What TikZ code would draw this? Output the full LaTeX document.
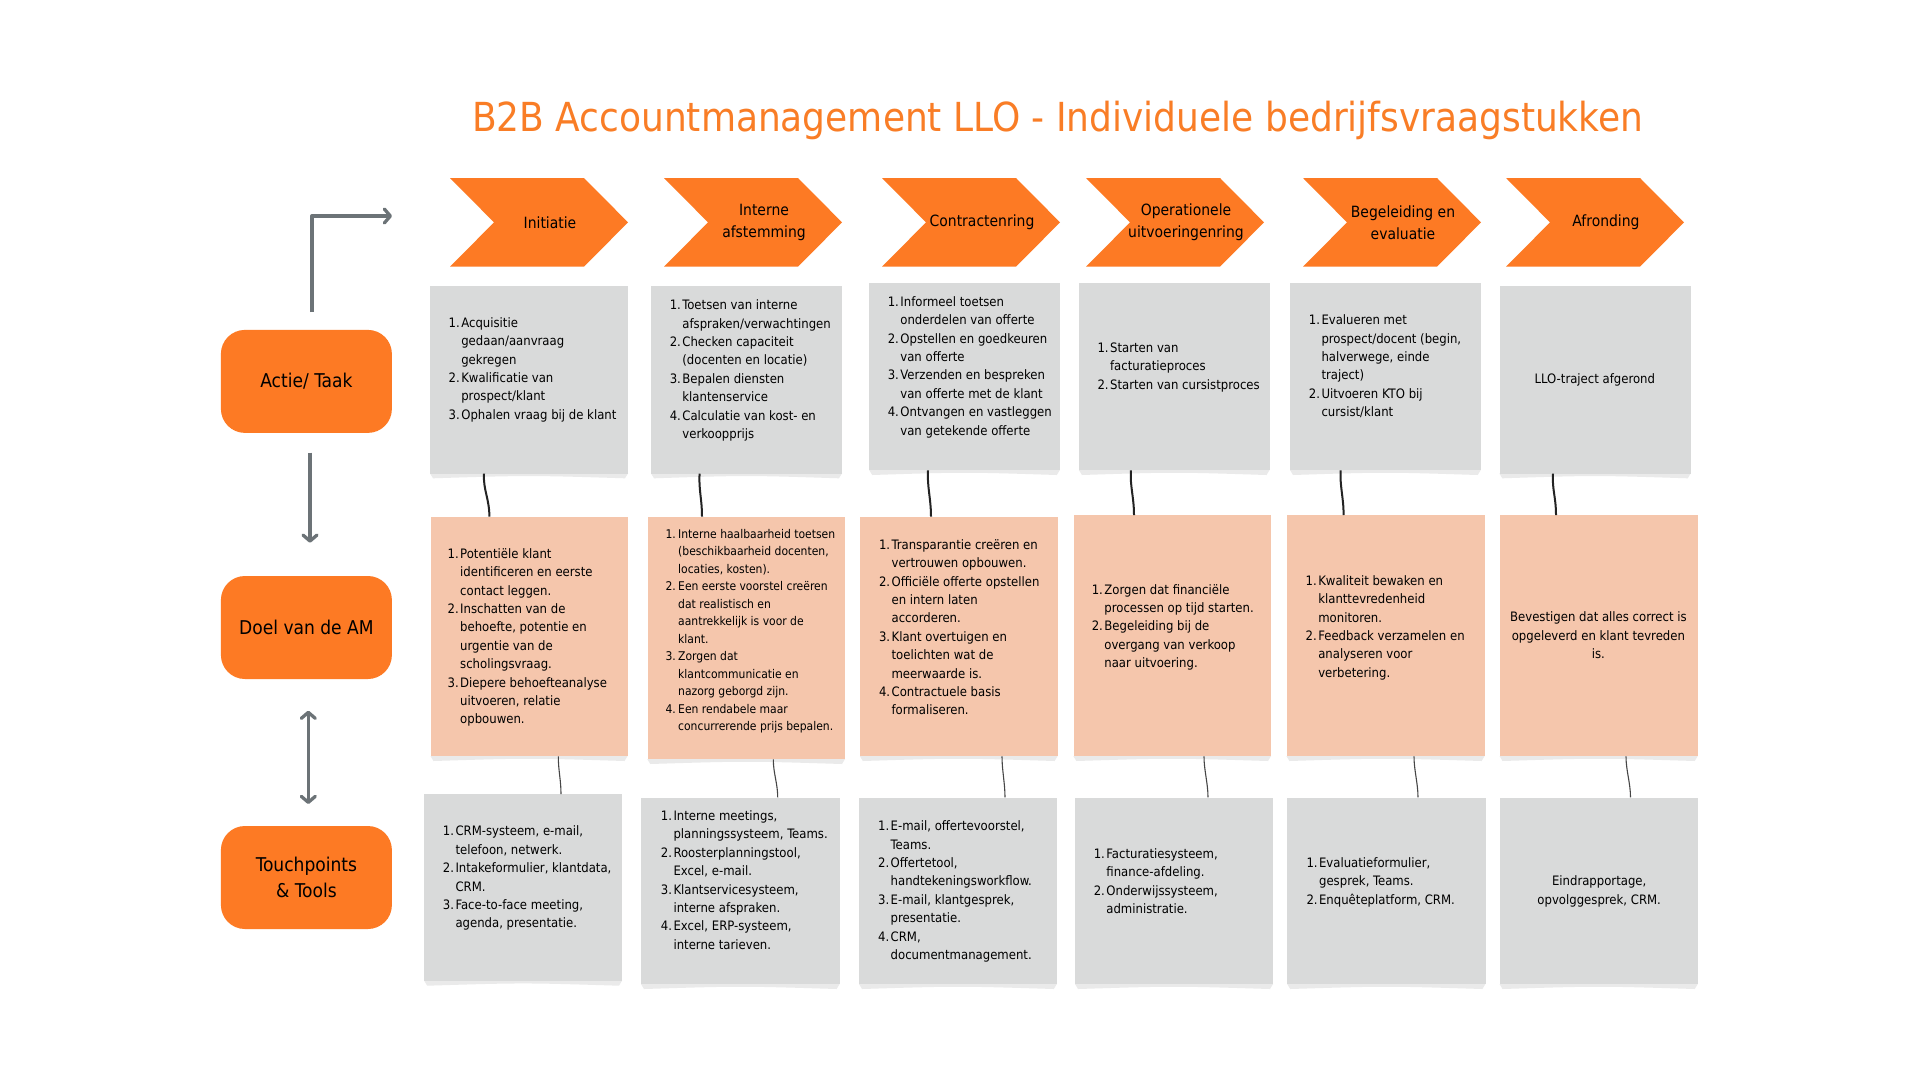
\documentclass[tikz,border=0pt]{standalone}
\usepackage{fontspec}
\IfFontExistsTF{DejaVu Sans Condensed}{\setmainfont{DejaVu Sans Condensed}}{\setmainfont{DejaVu Sans}[FakeStretch=0.9]}
\usetikzlibrary{arrows.meta}
\definecolor{org}{RGB}{253,122,36}
\definecolor{titleorg}{RGB}{249,125,38}
\definecolor{boxgray}{RGB}{217,218,218}
\definecolor{peach}{RGB}{245,198,172}
\definecolor{arrgray}{RGB}{108,115,119}
\definecolor{conn}{RGB}{35,35,35}
\definecolor{conn2}{RGB}{70,70,70}
\definecolor{shad}{RGB}{234,234,234}
\newcommand\itm[1]{\makebox[12.6pt][l]{#1}}
\newcommand\ct{\hspace*{12.6pt}}
\newcommand\chev[3]{%
  \fill[org] (#1,178) -- (#1+134,178) -- (#1+178,222.35) -- (#1+134,266.7) -- (#1,266.7) -- (#1+44,222.35) -- cycle;
  \node[chevtxt] (#2) at (#1+100,222.35) {#3};}
% style, name, x, y, w, h
\newcommand\bx[6]{%
  \fill[shad] (#3,#4+#6) -- (#3+#5,#4+#6) -- (#3+#5-3,#4+#6+5) .. controls (#3+#5/2,#4+#6+2) .. (#3+3,#4+#6+5) -- cycle;
  \node[#1, minimum width=#5pt, minimum height=#6pt] (#2) at (#3,#4) {};}
\tikzset{
  chevtxt/.style={align=center, inner sep=0, font=\fontsize{15.5}{22}\selectfont},
  gbox/.style={fill=boxgray, draw=none, inner sep=0, anchor=north west},
  pbox/.style={fill=peach, draw=none, inner sep=0, anchor=north west},
  lbl/.style={fill=org, draw=none, rounded corners=24pt, minimum width=171pt, minimum height=103pt, inner sep=0, align=center, font=\fontsize{19}{26}\selectfont},
  txt/.style={align=left, inner sep=0, anchor=west, font=\fontsize{13}{18.4}\selectfont},
  stxt/.style={align=left, inner sep=0, anchor=west, font=\fontsize{12}{17.5}\selectfont},
  ctxt/.style={align=center, inner sep=0, font=\fontsize{13}{18.4}\selectfont},
  arr/.style={draw=arrgray, line width=3.3pt, line join=round, -{Straight Barb[length=6pt,width=14pt,line cap=round,line join=round]}},
  darr/.style={draw=arrgray, line width=3.3pt, {Straight Barb[length=6pt,width=14pt,line cap=round,line join=round]}-{Straight Barb[length=6pt,width=14pt,line cap=round,line join=round]}},
  conA/.style={draw=conn, line width=2pt},
  conB/.style={draw=conn2, line width=1.1pt},
}
\begin{document}
\begin{tikzpicture}[x=1pt,y=-1pt]
\useasboundingbox[fill=white] (0,0) rectangle (1920,1080);

% title
\node[anchor=base, inner sep=0, text=titleorg, font=\fontsize{40}{48}\selectfont] (title) at (1057.7,131) {B2B Accountmanagement LLO - Individuele bedrijfsvraagstukken};

% chevrons
\chev{450}{h1}{Initiatie}
\chev{664}{h2}{Interne\\afstemming}
\chev{882}{h3}{Contractenring}
\chev{1086}{h4}{Operationele\\uitvoeringenring}
\chev{1303}{h5}{Begeleiding en\\evaluatie}
\chev{1506}{h6}{Afronding}

% left labels
\node[lbl] (lab1) at (306.4,381.4) {Actie/ Taak};
\node[lbl] (lab2) at (306.4,627.5) {Doel van de AM};
\node[lbl] (lab3) at (306.4,877.5) {Touchpoints\\ \& Tools};

% arrows
\coordinate (e1) at (312,312);
\coordinate (e2) at (312,216);
\coordinate (e3) at (392,216);
\draw[arr] (e1) -- (e2) -- (e3);
\coordinate (d1) at (310,452.7);
\coordinate (d2) at (310,542.7);
\draw[arr] (d1) -- (d2);
\coordinate (u1) at (308.3,710.7);
\coordinate (u2) at (308.3,804);
\draw[darr] (u1) -- (u2);

% row 1 boxes
\bx{gbox}{a1}{430}{286}{198}{187.3}
\bx{gbox}{a2}{651}{286}{191}{187.3}
\bx{gbox}{a3}{869.2}{282.7}{190.6}{187.3}
\bx{gbox}{a4}{1078.9}{282.7}{190.6}{187.3}
\bx{gbox}{a5}{1290}{282.7}{190.7}{187.3}
\bx{gbox}{a6}{1499.3}{286}{191.4}{187.3}
% row 2 boxes
\bx{pbox}{b1}{430.5}{516.7}{197}{239.3}
\bx{pbox}{b2}{647.3}{516.7}{197.7}{242.3}
\bx{pbox}{b3}{859.8}{516.7}{197.8}{239.3}
\bx{pbox}{b4}{1073.3}{515}{197.7}{241}
\bx{pbox}{b5}{1286.4}{515}{198.2}{241}
\bx{pbox}{b6}{1499.5}{515}{198.2}{241}
% row 3 boxes
\bx{gbox}{c1}{424.2}{794}{197.8}{186.7}
\bx{gbox}{c2}{641}{797.3}{198.6}{186.7}
\bx{gbox}{c3}{859}{797.3}{197.8}{186.7}
\bx{gbox}{c4}{1075}{797.3}{198}{186.7}
\bx{gbox}{c5}{1287.2}{797.3}{198.2}{186.7}
\bx{gbox}{c6}{1499.5}{797.3}{198.2}{186.7}

% connectors row1 -> row2
\draw[conA] ([xshift=54pt]a1.south west) .. controls +(-1,16) and +(0,-18) .. ([xshift=58.9pt]b1.north west);
\draw[conA] ([xshift=48.6pt]a2.south west) .. controls +(-1,16) and +(0,-18) .. ([xshift=54.7pt]b2.north west);
\draw[conA] ([xshift=58.8pt]a3.south west) .. controls +(-1,16) and +(0,-18) .. ([xshift=71.2pt]b3.north west);
\draw[conA] ([xshift=52pt]a4.south west) .. controls +(-1,16) and +(0,-18) .. ([xshift=60.7pt]b4.north west);
\draw[conA] ([xshift=50.7pt]a5.south west) .. controls +(-1,16) and +(0,-18) .. ([xshift=57.2pt]b5.north west);
\draw[conA] ([xshift=53.7pt]a6.south west) .. controls +(-1,16) and +(0,-18) .. ([xshift=56.5pt]b6.north west);
% connectors row2 -> row3
\draw[conB] ([xshift=127.8pt]b1.south west) .. controls +(0,14) and +(0,-14) .. ([xshift=136.8pt]c1.north west);
\draw[conB] ([xshift=126pt]b2.south west) .. controls +(0,14) and +(0,-14) .. ([xshift=136.7pt]c2.north west);
\draw[conB] ([xshift=142.2pt]b3.south west) .. controls +(0,14) and +(0,-14) .. ([xshift=146pt]c3.north west);
\draw[conB] ([xshift=130.7pt]b4.south west) .. controls +(0,14) and +(0,-14) .. ([xshift=133pt]c4.north west);
\draw[conB] ([xshift=127.6pt]b5.south west) .. controls +(0,14) and +(0,-14) .. ([xshift=130.8pt]c5.north west);
\draw[conB] ([xshift=126.5pt]b6.south west) .. controls +(0,14) and +(0,-14) .. ([xshift=131pt]c6.north west);

% row 1 texts
\node[txt] (ta1) at (448.5,369.8) {\itm{1.}Acquisitie\\ \ct gedaan/aanvraag\\ \ct gekregen\\ \itm{2.}Kwalificatie van\\ \ct prospect/klant\\ \itm{3.}Ophalen vraag bij de klant};
\node[txt] (ta2) at (669.6,370.5) {\itm{1.}Toetsen van interne\\ \ct afspraken/verwachtingen\\ \itm{2.}Checken capaciteit\\ \ct (docenten en locatie)\\ \itm{3.}Bepalen diensten\\ \ct klantenservice\\ \itm{4.}Calculatie van kost- en\\ \ct verkoopprijs};
\node[txt] (ta3) at (887.6,367.2) {\itm{1.}Informeel toetsen\\ \ct onderdelen van offerte\\ \itm{2.}Opstellen en goedkeuren\\ \ct van offerte\\ \itm{3.}Verzenden en bespreken\\ \ct van offerte met de klant\\ \itm{4.}Ontvangen en vastleggen\\ \ct van getekende offerte};
\node[txt] (ta4) at (1097.3,367.3) {\itm{1.}Starten van\\ \ct facturatieproces\\ \itm{2.}Starten van cursistproces};
\node[txt] (ta5) at (1308.7,366.3) {\itm{1.}Evalueren met\\ \ct prospect/docent (begin,\\ \ct halverwege, einde\\ \ct traject)\\ \itm{2.}Uitvoeren KTO bij\\ \ct cursist/klant};
\node[ctxt] (ta6) at (1594.8,379.5) {LLO-traject afgerond};

% row 2 texts
\node[txt] (tb1) at (447.4,637.5) {\itm{1.}Potentiële klant\\ \ct identificeren en eerste\\ \ct contact leggen.\\ \itm{2.}Inschatten van de\\ \ct behoefte, potentie en\\ \ct urgentie van de\\ \ct scholingsvraag.\\ \itm{3.}Diepere behoefteanalyse\\ \ct uitvoeren, relatie\\ \ct opbouwen.};
\node[stxt] (tb2) at (665.4,631.2) {\itm{1.}Interne haalbaarheid toetsen\\ \ct (beschikbaarheid docenten,\\ \ct locaties, kosten).\\ \itm{2.}Een eerste voorstel creëren\\ \ct dat realistisch en\\ \ct aantrekkelijk is voor de\\ \ct klant.\\ \itm{3.}Zorgen dat\\ \ct klantcommunicatie en\\ \ct nazorg geborgd zijn.\\ \itm{4.}Een rendabele maar\\ \ct concurrerende prijs bepalen.};
\node[txt] (tb3) at (878.8,627.2) {\itm{1.}Transparantie creëren en\\ \ct vertrouwen opbouwen.\\ \itm{2.}Officiële offerte opstellen\\ \ct en intern laten\\ \ct accorderen.\\ \itm{3.}Klant overtuigen en\\ \ct toelichten wat de\\ \ct meerwaarde is.\\ \itm{4.}Contractuele basis\\ \ct formaliseren.};
\node[txt] (tb4) at (1091.6,627.3) {\itm{1.}Zorgen dat financiële\\ \ct processen op tijd starten.\\ \itm{2.}Begeleiding bij de\\ \ct overgang van verkoop\\ \ct naar uitvoering.};
\node[txt] (tb5) at (1305.5,627.8) {\itm{1.}Kwaliteit bewaken en\\ \ct klanttevredenheid\\ \ct monitoren.\\ \itm{2.}Feedback verzamelen en\\ \ct analyseren voor\\ \ct verbetering.};
\node[ctxt] (tb6) at (1598.4,635.3) {Bevestigen dat alles correct is\\ opgeleverd en klant tevreden\\ is.};

% row 3 texts
\node[txt] (tc1) at (442.7,878.3) {\itm{1.}CRM-systeem, e-mail,\\ \ct telefoon, netwerk.\\ \itm{2.}Intakeformulier, klantdata,\\ \ct CRM.\\ \itm{3.}Face-to-face meeting,\\ \ct agenda, presentatie.};
\node[txt] (tc2) at (660.7,880) {\itm{1.}Interne meetings,\\ \ct planningssysteem, Teams.\\ \itm{2.}Roosterplanningstool,\\ \ct Excel, e-mail.\\ \itm{3.}Klantservicesysteem,\\ \ct interne afspraken.\\ \itm{4.}Excel, ERP-systeem,\\ \ct interne tarieven.};
\node[txt] (tc3) at (877.9,891.5) {\itm{1.}E-mail, offertevoorstel,\\ \ct Teams.\\ \itm{2.}Offertetool,\\ \ct handtekeningsworkflow.\\ \itm{3.}E-mail, klantgesprek,\\ \ct presentatie.\\ \itm{4.}CRM,\\ \ct documentmanagement.};
\node[txt] (tc4) at (1093.6,881) {\itm{1.}Facturatiesysteem,\\ \ct finance-afdeling.\\ \itm{2.}Onderwijssysteem,\\ \ct administratie.};
\node[txt] (tc5) at (1306.3,882) {\itm{1.}Evaluatieformulier,\\ \ct gesprek, Teams.\\ \itm{2.}Enquêteplatform, CRM.};
\node[ctxt] (tc6) at (1599.2,891.2) {Eindrapportage,\\ opvolggesprek, CRM.};
\end{tikzpicture}
\end{document}
